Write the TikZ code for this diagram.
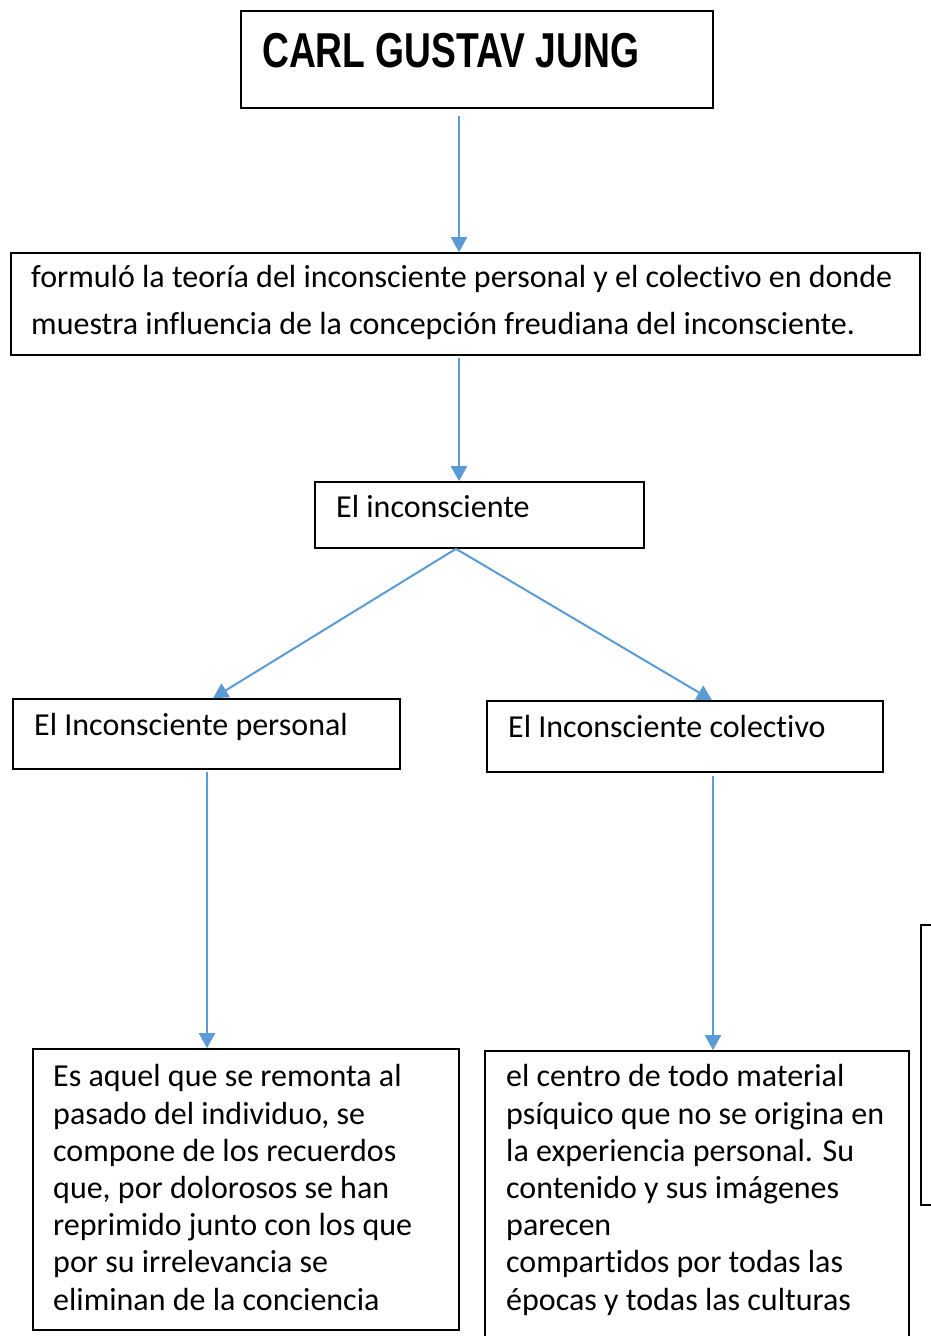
\documentclass[tikz,border=0pt]{standalone}
\usepackage{fontspec}
\setmainfont{Carlito}[Ligatures=NoCommon]
\newfontfamily\titlefont{Liberation Sans}[FakeStretch=0.76]
\usetikzlibrary{arrows.meta}
\definecolor{linkblue}{RGB}{91,155,213}
\begin{document}
\begin{tikzpicture}[x=1pt,y=-1pt,
		box/.style={draw=black,line width=1.6pt,inner sep=0pt},
		txt/.style={anchor=base west,align=left,inner sep=0pt,font=\fontsize{32}{37.2}\selectfont},
		link/.style={draw=linkblue,line width=2pt,-{Triangle[width=16pt,length=15pt]}}]
	\path [use as bounding box,clip] (0,0) rectangle (931,1336);
	\node [box,minimum width=472,minimum height=97] (jung) at (477,59.5) {};
	\node [anchor=base west,inner sep=0pt,font=\titlefont\bfseries\fontsize{49}{49}\selectfont] (jungtext) at (262,67) {CARL GUSTAV JUNG};
	\node [box,minimum width=909,minimum height=102] (teoria) at (465.5,304) {};
	\node [txt,font=\fontsize{32}{47}\selectfont] (teoriatext) at (31,334) {formuló la teoría del inconsciente personal y el colectivo en donde\\muestra influencia de la concepción freudiana del inconsciente.};
	\node [box,minimum width=329,minimum height=66] (incons) at (479.5,515) {};
	\node [txt] (inconstext) at (336,517) {El inconsciente};
	\node [box,minimum width=387,minimum height=70] (personal) at (206.5,734) {};
	\node [txt] (personaltext) at (34,735) {El Inconsciente personal};
	\node [box,minimum width=396,minimum height=71] (colectivo) at (685,736.5) {};
	\node [txt] (colectivotext) at (508,737) {El Inconsciente colectivo};
	\node [box,minimum width=426,minimum height=281] (pasado) at (246,1189.5) {};
	\node [txt] (pasadotext) at (53,1310) {Es aquel que se remonta al\\pasado del individuo, se\\compone de los recuerdos\\que, por dolorosos se han\\reprimido junto con los que\\por su irrelevancia se\\eliminan de la conciencia};
	\node [box,minimum width=424,minimum height=300] (centro) at (697,1201) {};
	\node [txt] (centrotext) at (506,1310) {el centro de todo material\\psíquico que no se origina en\\la experiencia personal. Su\\contenido y sus imágenes\\parecen\\compartidos por todas las\\épocas y todas las culturas};
	\node [box,minimum width=178,minimum height=280] (lateral) at (1010,1065) {};
	\draw [link] ([shift={(-18,7)}]jung.south) -- ([xshift=-6.5]teoria.north);
	\draw [link] ([shift={(-6.5,2)}]teoria.south) -- ([xshift=-20.5]incons.north);
	\draw [link] ([xshift=-23.5]incons.south) -- ([xshift=6.5]personal.north);
	\draw [link] ([xshift=-23.5]incons.south) -- ([xshift=27]colectivo.north);
	\draw [link] ([shift={(0.5,2)}]personal.south) -- ([xshift=-39]pasado.north);
	\draw [link] ([shift={(28,3)}]colectivo.south) -- ([xshift=16]centro.north);
\end{tikzpicture}
\end{document}
